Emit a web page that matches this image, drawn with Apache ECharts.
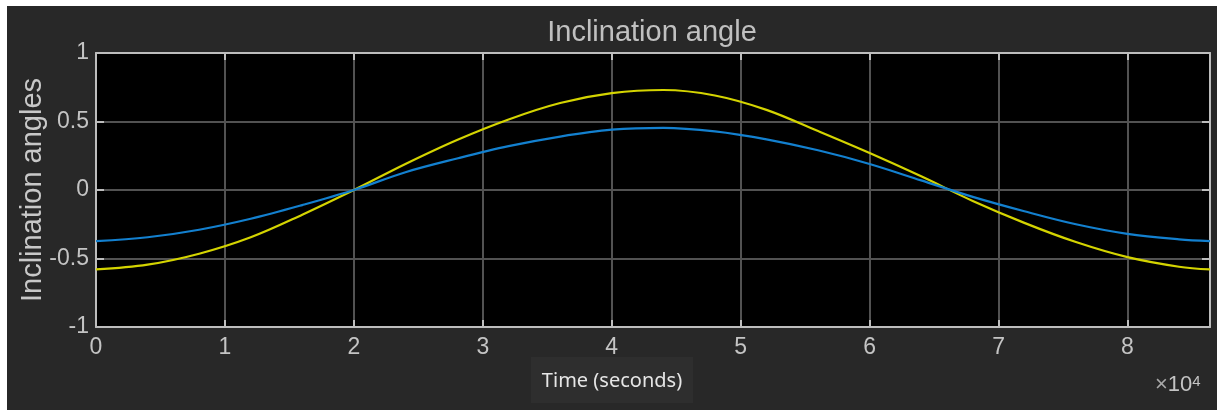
<!DOCTYPE html>
<html>
<head>
<meta charset="utf-8">
<script src="https://cdn.jsdelivr.net/npm/echarts@6/dist/echarts.min.js"></script>
<style>
html,body{margin:0;padding:0;background:#ffffff;}
#chart{width:1217px;height:410px;}
</style>
</head>
<body>
<div id="chart"></div>
<script>
// time in seconds
var timeSec = [0, 4000, 8000, 12000, 16000, 20000, 24000, 28000, 32000, 36000, 40000, 44000, 48000, 52000, 56000, 60000, 64000, 68000, 72000, 76000, 80000, 84000, 86400];
var yellowVals = [-0.58, -0.545, -0.465, -0.345, -0.18, 0.00, 0.19, 0.365, 0.515, 0.635, 0.707, 0.73, 0.69, 0.585, 0.43, 0.27, 0.10, -0.08, -0.24, -0.38, -0.49, -0.56, -0.58];
var blueVals = [-0.373, -0.345, -0.29, -0.21, -0.11, 0.00, 0.13, 0.23, 0.32, 0.39, 0.44, 0.454, 0.428, 0.37, 0.29, 0.19, 0.07, -0.05, -0.155, -0.25, -0.32, -0.36, -0.373];
var xTickLabels = ['0', '1', '2', '3', '4', '5', '6', '7', '8'];
var yTickLabels = ['-1', '-0.5', '0', '0.5', '1'];
var titleText = 'Inclination angle';
var yLabelText = 'Inclination angles';
var xLabelText = 'Time (seconds)';

function pairs(xs, ys) { return xs.map(function (x, i) { return [x, ys[i]]; }); }

var FONT = '"Liberation Sans", Arial, sans-serif';
var TICKC = '#c4c4c4';
var AXISC = '#bdbdbd';
var GRIDC = '#525252';

var chart = echarts.init(document.getElementById('chart'), null, { renderer: 'canvas' });
var yMap = {};
[-1, -0.5, 0, 0.5, 1].forEach(function (v, i) { yMap[v] = yTickLabels[i]; });

chart.setOption({
  backgroundColor: '#282828',
  animation: false,
  grid: { left: 96, top: 53, right: 7, bottom: 83, backgroundColor: '#000000', show: true, borderWidth: 0 },
  xAxis: [{
    type: 'value', min: 0, max: 86400, interval: 10000,
    axisLine: { show: true, onZero: false, lineStyle: { color: AXISC, width: 2 } },
    axisTick: { show: true, inside: true, length: 7, lineStyle: { color: AXISC, width: 2 } },
    splitLine: { show: true, lineStyle: { color: GRIDC, width: 2 } },
    axisLabel: {
      color: TICKC, fontFamily: 'Liberation Sans', fontSize: 23, margin: 9,
      formatter: function (v) { var i = Math.round(v / 10000); return (v % 10000 === 0 && xTickLabels[i] !== undefined) ? xTickLabels[i] : ''; }
    }
  }, {
    type: 'value', min: 0, max: 86400, interval: 10000, position: 'top',
    axisLine: { show: true, onZero: false, lineStyle: { color: AXISC, width: 2 } },
    axisTick: { show: true, inside: true, length: 7, lineStyle: { color: AXISC, width: 2 } },
    splitLine: { show: false }, axisLabel: { show: false }
  }],
  yAxis: [{
    type: 'value', min: -1, max: 1, interval: 0.5,
    axisLine: { show: true, onZero: false, lineStyle: { color: AXISC, width: 2 } },
    axisTick: { show: true, inside: true, length: 8, lineStyle: { color: AXISC, width: 2 } },
    splitLine: { show: true, lineStyle: { color: GRIDC, width: 2 } },
    axisLabel: {
      color: TICKC, fontFamily: 'Liberation Sans', fontSize: 23, margin: 7,
      formatter: function (v) { return yMap[v] !== undefined ? yMap[v] : ''; }
    }
  }, {
    type: 'value', min: -1, max: 1, interval: 0.5, position: 'right',
    axisLine: { show: true, onZero: false, lineStyle: { color: AXISC, width: 2 } },
    axisTick: { show: true, inside: true, length: 8, lineStyle: { color: AXISC, width: 2 } },
    splitLine: { show: false }, axisLabel: { show: false }
  }],
  series: [{
    type: 'line', xAxisIndex: 0, yAxisIndex: 0, data: pairs(timeSec, yellowVals),
    showSymbol: false, smooth: 0.35, lineStyle: { color: '#d4d400', width: 2.2 }, z: 3
  }, {
    type: 'line', xAxisIndex: 0, yAxisIndex: 0, data: pairs(timeSec, blueVals),
    showSymbol: false, smooth: 0.35, lineStyle: { color: '#1380cf', width: 2.2 }, z: 4
  }],
  graphic: [
    { type: 'rect', left: 0, top: 0, shape: { width: 1217, height: 6 }, style: { fill: '#ffffff' }, z: 100 },
    { type: 'rect', left: 0, top: 0, shape: { width: 7, height: 410 }, style: { fill: '#ffffff' }, z: 100 },
    { type: 'text', x: 652, y: 33, style: { text: titleText, fill: '#c0c0c0', font: '29px ' + FONT, textAlign: 'center', textVerticalAlign: 'middle' }, z: 100 },
    { type: 'text', x: 33, y: 190, rotation: Math.PI / 2, style: { text: yLabelText, fill: '#c8c8c8', font: '29px ' + FONT, textAlign: 'center', textVerticalAlign: 'middle' }, z: 100 },
    { type: 'rect', x: 531, y: 357, shape: { width: 162, height: 46 }, style: { fill: '#2e2e2e' }, z: 100 },
    { type: 'text', x: 612, y: 381, style: { text: xLabelText, fill: '#e6e6e6', font: '20px "Noto Sans", sans-serif', textAlign: 'center', textVerticalAlign: 'middle' }, z: 101 },
    { type: 'text', x: 1155, y: 385, style: {
        text: '{t|×}{b|10}{s|4}', textVerticalAlign: 'middle', textAlign: 'left',
        rich: {
          t: { fill: '#a8a8a8', font: '22px ' + FONT, verticalAlign: 'bottom' },
          b: { fill: '#c4c4c4', font: '22px ' + FONT, verticalAlign: 'bottom' },
          s: { fill: '#c4c4c4', font: '15px ' + FONT, verticalAlign: 'top' }
        }
      }, z: 100 }
  ]
});
</script>
</body>
</html>
